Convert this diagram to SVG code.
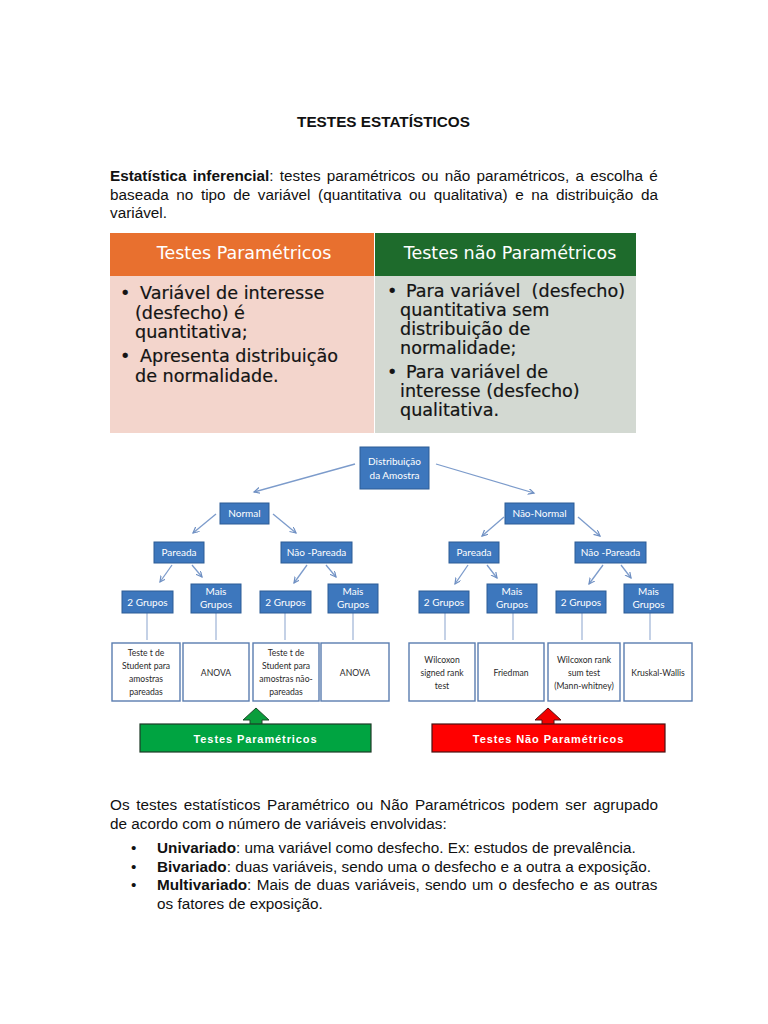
<svg xmlns="http://www.w3.org/2000/svg" width="768" height="1024" viewBox="0 0 768 1024">
<defs>
<marker id="ah" markerWidth="8" markerHeight="8" refX="6" refY="3" orient="auto" markerUnits="userSpaceOnUse">
<path d="M0,0 L6,3 L0,6" fill="none" stroke="#6E8FC2" stroke-width="1.2"/>
</marker>
</defs>
<style>
.doc{font-family:"Liberation Sans",Arial,sans-serif;font-size:15.3px;fill:#111}
.b{font-weight:bold}
.hd{font-family:"DejaVu Sans",Tahoma,sans-serif;font-size:17.5px;fill:#fff}
.bd{font-family:"DejaVu Sans",Tahoma,sans-serif;font-size:17.6px;fill:#141414;stroke:#141414;stroke-width:0.2}
.nb rect{fill:#3D77BD;stroke:#2C5C96;stroke-width:1}
.nb text{font-family:Lato,"Open Sans",sans-serif;font-size:10px;fill:#fff;text-anchor:middle}
.lf rect{fill:#fff;stroke:#5A7DB0;stroke-width:1.4}
.lf text{font-family:Lato,"Open Sans",sans-serif;font-size:8.6px;fill:#2a2a2a;text-anchor:middle}
.arr{stroke:#7C9BCB;stroke-width:1.3;fill:none;marker-end:url(#ah)}
.ln{stroke:#9DB3D6;stroke-width:1.2}
.btn{font-family:"Liberation Sans",Arial,sans-serif;font-size:11px;font-weight:bold;fill:#fff;text-anchor:middle;letter-spacing:0.9px}
</style>
<rect width="768" height="1024" fill="#fff"/>

<text class="doc b" x="383.5" y="127" text-anchor="middle">TESTES ESTATÍSTICOS</text>

<text class="doc" x="110" y="181" word-spacing="2"><tspan class="b">Estatística inferencial</tspan>: testes paramétricos ou não paramétricos, a escolha é</text>
<text class="doc" x="110" y="200" word-spacing="3.35">baseada no tipo de variável (quantitativa ou qualitativa) e na distribuição da</text>
<text class="doc" x="110" y="218">variável.</text>

<g id="table">
<rect x="110" y="233" width="264" height="43" fill="#E8702F"/>
<rect x="375" y="233" width="261" height="43" fill="#1E6B2C"/>
<rect x="110" y="276" width="264" height="157" fill="#F3D5CC"/>
<rect x="375" y="276" width="261" height="157" fill="#D3D9D2"/>
<text class="hd" x="244" y="259" text-anchor="middle">Testes Paramétricos</text>
<text class="hd" x="510" y="259" text-anchor="middle">Testes não Paramétricos</text>
<text class="bd" x="120" y="299">•</text>
<text class="bd" x="140" y="299">Variável de interesse</text>
<text class="bd" x="135" y="319">(desfecho) é</text>
<text class="bd" x="135" y="338">quantitativa;</text>
<text class="bd" x="120" y="362">•</text>
<text class="bd" x="140" y="362">Apresenta distribuição</text>
<text class="bd" x="135" y="382">de normalidade.</text>
<text class="bd" x="387" y="297">•</text>
<text class="bd" x="406" y="297">Para variável&#160; (desfecho)</text>
<text class="bd" x="400" y="316">quantitativa sem</text>
<text class="bd" x="400" y="335">distribuição de</text>
<text class="bd" x="400" y="354">normalidade;</text>
<text class="bd" x="387" y="378">•</text>
<text class="bd" x="406" y="378">Para variável de</text>
<text class="bd" x="400" y="397">interesse (desfecho)</text>
<text class="bd" x="400" y="416">qualitativa.</text>
</g>

<g id="connectors">
<line class="arr" x1="355" y1="464" x2="254" y2="492"/>
<line class="arr" x1="436" y1="464" x2="534" y2="493"/>
<line class="arr" x1="216" y1="514" x2="193" y2="533"/>
<line class="arr" x1="273" y1="514" x2="296" y2="533"/>
<line class="arr" x1="504" y1="517" x2="482" y2="536"/>
<line class="arr" x1="578" y1="517" x2="600" y2="536"/>
<line class="arr" x1="172" y1="565" x2="160" y2="582"/>
<line class="arr" x1="192" y1="565" x2="202" y2="577"/>
<line class="arr" x1="307" y1="565" x2="294" y2="583"/>
<line class="arr" x1="326" y1="565" x2="336" y2="577"/>
<line class="arr" x1="468" y1="565" x2="455" y2="584"/>
<line class="arr" x1="487" y1="565" x2="497" y2="578"/>
<line class="arr" x1="603" y1="565" x2="589" y2="584"/>
<line class="arr" x1="621" y1="565" x2="631" y2="578"/>
<line class="ln" x1="147" y1="613" x2="147" y2="640"/>
<line class="ln" x1="216" y1="613" x2="216" y2="640"/>
<line class="ln" x1="285" y1="613" x2="285" y2="640"/>
<line class="ln" x1="353" y1="613" x2="353" y2="640"/>
<line class="ln" x1="445" y1="613" x2="445" y2="640"/>
<line class="ln" x1="513" y1="613" x2="513" y2="640"/>
<line class="ln" x1="582" y1="613" x2="582" y2="640"/>
<line class="ln" x1="650" y1="613" x2="650" y2="640"/>
</g>

<g id="n-root" class="nb"><rect x="360" y="447" width="69" height="42"/><text x="394.5" y="465">Distribuição</text><text x="394.5" y="479">da Amostra</text></g>
<g id="n-normal" class="nb"><rect x="220" y="503" width="49" height="21"/><text x="244.5" y="517">Normal</text></g>
<g id="n-naonormal" class="nb"><rect x="505" y="503" width="69" height="21"/><text x="539.5" y="517">Não-Normal</text></g>
<g id="n-par1" class="nb"><rect x="154" y="542" width="50" height="21"/><text x="179" y="556">Pareada</text></g>
<g id="n-npar1" class="nb"><rect x="281" y="542" width="71" height="21"/><text x="316.5" y="556">Não -Pareada</text></g>
<g id="n-par2" class="nb"><rect x="449" y="542" width="50" height="21"/><text x="474" y="556">Pareada</text></g>
<g id="n-npar2" class="nb"><rect x="575" y="542" width="71" height="21"/><text x="610.5" y="556">Não -Pareada</text></g>

<g id="n-g1" class="nb"><rect x="122" y="591" width="51" height="22"/><text x="147.5" y="605.5">2 Grupos</text></g>
<g id="n-m1" class="nb"><rect x="191" y="584" width="50" height="29"/><text x="216" y="595">Mais</text><text x="216" y="608">Grupos</text></g>
<g id="n-g2" class="nb"><rect x="260" y="591" width="51" height="22"/><text x="285.5" y="605.5">2 Grupos</text></g>
<g id="n-m2" class="nb"><rect x="328" y="584" width="50" height="29"/><text x="353" y="595">Mais</text><text x="353" y="608">Grupos</text></g>
<g id="n-g3" class="nb"><rect x="419" y="591" width="50" height="22"/><text x="444" y="605.5">2 Grupos</text></g>
<g id="n-m3" class="nb"><rect x="487" y="584" width="50" height="29"/><text x="512" y="595">Mais</text><text x="512" y="608">Grupos</text></g>
<g id="n-g4" class="nb"><rect x="556" y="591" width="50" height="22"/><text x="581" y="605.5">2 Grupos</text></g>
<g id="n-m4" class="nb"><rect x="624" y="584" width="49" height="29"/><text x="648.5" y="595">Mais</text><text x="648.5" y="608">Grupos</text></g>

<g id="l1" class="lf"><rect x="112" y="643" width="68" height="58"/><text x="146" y="656">Teste t de</text><text x="146" y="669">Student para</text><text x="146" y="682">amostras</text><text x="146" y="695">pareadas</text></g>
<g id="l2" class="lf"><rect x="183" y="643" width="66" height="58"/><text x="216" y="676">ANOVA</text></g>
<g id="l3" class="lf"><rect x="253" y="643" width="66" height="58"/><text x="286" y="656">Teste t de</text><text x="286" y="669">Student para</text><text x="286" y="682">amostras não-</text><text x="286" y="695">pareadas</text></g>
<g id="l4" class="lf"><rect x="321" y="643" width="68" height="58"/><text x="355" y="676">ANOVA</text></g>
<g id="l5" class="lf"><rect x="409" y="643" width="66" height="58"/><text x="442" y="663">Wilcoxon</text><text x="442" y="676">signed rank</text><text x="442" y="689">test</text></g>
<g id="l6" class="lf"><rect x="478" y="643" width="66" height="58"/><text x="511" y="676">Friedman</text></g>
<g id="l7" class="lf"><rect x="548" y="643" width="72" height="58"/><text x="584" y="663">Wilcoxon rank</text><text x="584" y="676">sum test</text><text x="584" y="689">(Mann-whitney)</text></g>
<g id="l8" class="lf"><rect x="624" y="643" width="68" height="58"/><text x="658" y="676">Kruskal-Wallis</text></g>

<g id="btn-param">
<polygon points="256,708 269,720 262,720 262,725 250,725 250,720 243,720" fill="#0A9E3C" stroke="#1D4A2A" stroke-width="1"/>
<rect x="140" y="724" width="231" height="28" fill="#00A441" stroke="#1D3B27" stroke-width="1.2"/>
<text class="btn" x="255.5" y="743">Testes Paramétricos</text>
</g>
<g id="btn-nparam">
<polygon points="548,708 561,720 554,720 554,725 542,725 542,720 535,720" fill="#F20000" stroke="#5A1010" stroke-width="1"/>
<rect x="432" y="724" width="233" height="28" fill="#FF0000" stroke="#4A1212" stroke-width="1.2"/>
<text class="btn" x="548.5" y="743">Testes Não Paramétricos</text>
</g>

<text class="doc" x="110" y="810" word-spacing="2.5">Os testes estatísticos Paramétrico ou Não Paramétricos podem ser agrupado</text>
<text class="doc" x="110" y="829">de acordo com o número de variáveis envolvidas:</text>
<text class="doc" x="131" y="853">•</text>
<text class="doc" x="157" y="853"><tspan class="b">Univariado</tspan>: uma variável como desfecho. Ex: estudos de prevalência.</text>
<text class="doc" x="131" y="872">•</text>
<text class="doc" x="157" y="872"><tspan class="b">Bivariado</tspan>: duas variáveis, sendo uma o desfecho e a outra a exposição.</text>
<text class="doc" x="131" y="890">•</text>
<text class="doc" x="157" y="890" word-spacing="1.05"><tspan class="b">Multivariado</tspan>: Mais de duas variáveis, sendo um o desfecho e as outras</text>
<text class="doc" x="157" y="909">os fatores de exposição.</text>
</svg>
